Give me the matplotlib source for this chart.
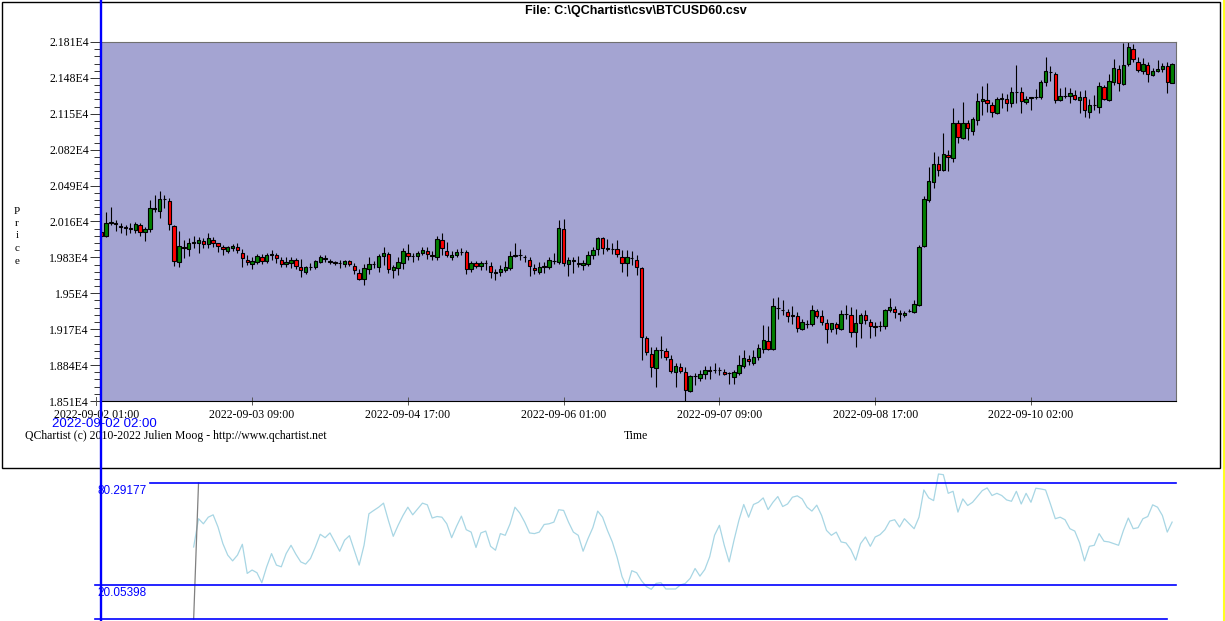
"""QChartist-style BTCUSD 1h candlestick chart with oscillator panel -> out.png"""
import numpy as np
import matplotlib
matplotlib.use("Agg")
import matplotlib.pyplot as plt
from matplotlib.lines import Line2D
from matplotlib.patches import Rectangle
from matplotlib.ticker import FixedLocator, NullFormatter
from matplotlib.transforms import blended_transform_factory

plt.rcParams["font.family"] = "Liberation Serif"

# ------------------------------------------------------------------
# Data (hourly candles, index 0 = 2022-09-02 01:00)
# ------------------------------------------------------------------
opens = [
    20050, 20060, 20030, 20150, 20150, 20120, 20105, 20100, 20080, 20130,
    20060, 20090, 20275, 20260, 20365, 20350, 20120, 19790, 19925, 19905,
    19970, 19965, 19980, 19950, 19990, 19960, 19925, 19890, 19915, 19930,
    19870, 19805, 19770, 19790, 19830, 19795, 19855, 19850, 19805, 19765,
    19780, 19805, 19740, 19700, 19745, 19745, 19790, 19818, 19790, 19785,
    19778, 19765, 19795, 19755, 19685, 19630, 19725, 19766, 19745, 19840,
    19860, 19710, 19735, 19780, 19875, 19842, 19840, 19875, 19885, 19850,
    19830, 19990, 19890, 19835, 19850, 19880, 19880, 19720, 19775, 19750,
    19775, 19755, 19690, 19695, 19715, 19735, 19845, 19850, 19835, 19810,
    19730, 19700, 19745, 19745, 19800, 19790, 20090, 19765, 19800, 19775,
    19757, 19772, 19855, 19905, 20005, 19910, 19910, 19905, 19835, 19775,
    19825, 19805, 19730, 19085, 18940, 18815, 18976, 18970, 18895, 18780,
    18820, 18775, 18605, 18737, 18720, 18755, 18790, 18795, 18795, 18775,
    18765, 18735, 18770, 18835, 18895, 18860, 18910, 18990, 19060, 18985,
    19365, 19347, 19325, 19295, 19290, 19175, 19218, 19215, 19335, 19290,
    19225, 19170, 19215, 19175, 19307, 19300, 19140, 19225, 19300, 19235,
    19195, 19196, 19195, 19345, 19360, 19315, 19300, 19337, 19330, 19395,
    19935, 20360, 20525, 20685, 20630, 20770, 20740, 21065, 20930, 21065,
    20995, 21095, 21265, 21280, 21235, 21155, 21288, 21285, 21245, 21350,
    21350, 21255, 21297, 21300, 21300, 21445, 21530, 21515, 21280, 21314,
    21316, 21325, 21280, 21300, 21170, 21230, 21215, 21395, 21275, 21445,
    21565, 21420, 21605, 21750, 21630, 21545, 21595, 21505, 21540, 21560,
    21590, 21435,
]
highs = [
    20080, 20090, 20245, 20290, 20175, 20145, 20130, 20145, 20155, 20150,
    20110, 20360, 20405, 20440, 20405, 20380, 20130, 20075, 19990, 20005,
    20025, 20020, 20005, 20050, 20020, 19965, 19945, 19935, 19955, 19960,
    19905, 19850, 19830, 19860, 19860, 19875, 19900, 19875, 19835, 19830,
    19830, 19820, 19815, 19755, 19775, 19810, 19850, 19850, 19815, 19800,
    19810, 19805, 19805, 19780, 19725, 19770, 19830, 19795, 19860, 19930,
    19880, 19760, 19830, 19915, 19955, 19875, 19885, 19925, 19925, 19890,
    20025, 20055, 19970, 19885, 19905, 19915, 19900, 19795, 19795, 19795,
    19805, 19785, 19725, 19760, 19795, 19885, 19965, 19905, 19850, 19835,
    19770, 19790, 19785, 19830, 19870, 20175, 20185, 19835, 19835, 19845,
    19805, 19885, 19930, 20020, 20020, 20000, 19965, 19990, 19900, 19900,
    19890, 19850, 19745, 19105, 19010, 19010, 19105, 19000, 18935, 18855,
    18855, 18825, 18750, 18765, 18795, 18835, 18830, 18855, 18825, 18800,
    18780, 18795, 18935, 18980, 18935, 18980, 19030, 19210, 19200, 19455,
    19465, 19440, 19360, 19385, 19330, 19260, 19255, 19390, 19360, 19345,
    19260, 19230, 19240, 19345, 19390, 19370, 19355, 19320, 19345, 19260,
    19235, 19245, 19360, 19455, 19385, 19345, 19335, 19355, 19440, 19940,
    20390, 20665, 20800, 20760, 20975, 20815, 21200, 21095, 21260, 21095,
    21125, 21340, 21405, 21430, 21260, 21305, 21340, 21330, 21395, 21600,
    21395, 21315, 21305, 21375, 21460, 21675, 21590, 21530, 21385, 21395,
    21385, 21370, 21355, 21370, 21285, 21325, 21445, 21415, 21520, 21650,
    21600, 21800, 21815, 21790, 21675, 21660, 21630, 21570, 21640, 21615,
    21630, 21620,
]
lows = [
    20040, 20010, 20020, 20130, 20075, 20055, 20035, 20050, 20055, 20030,
    19985, 20065, 20250, 20190, 20280, 20080, 19755, 19745, 19820, 19845,
    19915, 19875, 19915, 19915, 19930, 19880, 19850, 19875, 19890, 19870,
    19745, 19760, 19720, 19770, 19770, 19775, 19805, 19775, 19740, 19745,
    19730, 19725, 19650, 19675, 19715, 19725, 19775, 19790, 19765, 19760,
    19735, 19745, 19750, 19675, 19620, 19580, 19675, 19735, 19700, 19760,
    19685, 19645, 19670, 19720, 19810, 19790, 19810, 19850, 19815, 19810,
    19810, 19850, 19830, 19810, 19830, 19850, 19675, 19700, 19730, 19715,
    19715, 19645, 19620, 19655, 19700, 19715, 19830, 19805, 19790, 19660,
    19675, 19675, 19690, 19725, 19770, 19770, 19750, 19660, 19690, 19745,
    19715, 19755, 19815, 19850, 19860, 19890, 19860, 19835, 19700, 19655,
    19760, 19670, 18885, 18935, 18735, 18640, 18905, 18885, 18765, 18640,
    18765, 18505, 18595, 18655, 18695, 18710, 18710, 18765, 18750, 18745,
    18670, 18665, 18750, 18810, 18840, 18840, 18885, 18955, 18980, 18980,
    19265, 19305, 19240, 19215, 19140, 19165, 19185, 19200, 19270, 19210,
    19045, 19140, 19130, 19165, 19260, 19095, 19005, 19085, 19220, 19085,
    19105, 19155, 19175, 19325, 19275, 19245, 19280, 19328, 19320, 19385,
    19930, 20340, 20465, 20580, 20620, 20625, 20705, 20880, 20915, 20910,
    20955, 21045, 21140, 21170, 21120, 21150, 21200, 21180, 21215, 21245,
    21160, 21240, 21185, 21285, 21290, 21405, 21455, 21245, 21270, 21295,
    21250, 21275, 21160, 21125, 21110, 21185, 21160, 21275, 21270, 21415,
    21355, 21415, 21590, 21630, 21535, 21520, 21445, 21495, 21530, 21535,
    21345, 21430,
]
closes = [
    20060, 20030, 20150, 20160, 20135, 20105, 20100, 20095, 20135, 20065,
    20090, 20280, 20280, 20365, 20370, 20135, 19800, 19935, 19920, 19960,
    19965, 19990, 19950, 20005, 19960, 19935, 19905, 19925, 19935, 19900,
    19820, 19785, 19795, 19840, 19800, 19850, 19858, 19820, 19770, 19785,
    19810, 19755, 19710, 19740, 19742, 19795, 19830, 19820, 19792, 19782,
    19780, 19795, 19770, 19710, 19635, 19730, 19770, 19768, 19840, 19870,
    19720, 19740, 19785, 19885, 19840, 19840, 19870, 19900, 19860, 19847,
    19995, 19915, 19850, 19855, 19880, 19884, 19720, 19775, 19755, 19775,
    19777, 19695, 19692, 19720, 19740, 19845, 19847, 19850, 19830, 19750,
    19710, 19740, 19747, 19805, 19797, 20100, 19775, 19810, 19802, 19772,
    19778, 19850, 19895, 20005, 19920, 19912, 19907, 19860, 19780, 19830,
    19822, 19745, 19100, 18960, 18825, 18975, 18978, 18910, 18790, 18830,
    18790, 18615, 18740, 18738, 18760, 18795, 18788, 18798, 18792, 18755,
    18763, 18775, 18840, 18905, 18875, 18910, 18995, 19070, 18990, 19380,
    19367, 19345, 19290, 19293, 19185, 19235, 19220, 19345, 19290, 19235,
    19175, 19225, 19185, 19310, 19309, 19145, 19225, 19305, 19250, 19195,
    19193, 19198, 19345, 19370, 19330, 19313, 19320, 19339, 19400, 19930,
    20365, 20530, 20685, 20635, 20780, 20750, 21070, 20940, 21070, 21015,
    21100, 21265, 21290, 21250, 21170, 21285, 21291, 21250, 21350, 21352,
    21265, 21285, 21299, 21303, 21445, 21540, 21532, 21280, 21315, 21316,
    21340, 21290, 21305, 21185, 21235, 21232, 21410, 21290, 21450, 21575,
    21430, 21595, 21760, 21650, 21550, 21605, 21515, 21545, 21560, 21585,
    21445, 21605,
]

price_ticks = [18510, 18840, 19170, 19500, 19830, 20160,
               20490, 20820, 21150, 21480, 21810]
price_tick_labels = ["1.851E4", "1.884E4", "1.917E4", "1.95E4", "1.983E4",
                     "2.016E4", "2.049E4", "2.082E4", "2.115E4", "2.148E4",
                     "2.181E4"]
time_tick_idx = [0, 32, 64, 96, 128, 160, 192]
time_tick_labels = ["2022-09-02 01:00", "2022-09-03 09:00", "2022-09-04 17:00",
                    "2022-09-06 01:00", "2022-09-07 09:00", "2022-09-08 17:00",
                    "2022-09-10 02:00"]

# oscillator (starts at candle 20)
osc_start = 20
osc_values = [
    42.5, 59.2, 56.2, 60.1, 61.5, 54.3, 44.5, 37.7, 34.3, 37.7,
    44.1, 26.9, 28.9, 27.3, 21.4, 30.8, 38.6, 31.8, 30.8, 38.6,
    43.5, 38.2, 33.7, 32.4, 35.7, 42.5, 50.0, 48.0, 50.8, 45.5,
    40.0, 46.5, 49.2, 40.6, 31.8, 43.5, 62.1, 64.1, 66.0, 68.4,
    58.2, 48.8, 55.3, 61.1, 66.0, 61.5, 65.0, 68.4, 67.4, 59.6,
    60.5, 60.1, 56.2, 48.0, 54.7, 60.7, 52.7, 51.3, 42.2, 50.8,
    51.9, 42.9, 40.6, 50.4, 49.4, 56.2, 66.0, 62.5, 57.2, 50.8,
    50.4, 51.3, 55.8, 56.2, 57.2, 64.5, 64.1, 57.2, 51.3, 49.4,
    40.0, 47.4, 53.9, 63.7, 60.1, 52.3, 45.5, 36.3, 25.0, 18.7,
    28.5, 27.3, 22.6, 19.1, 17.5, 21.0, 21.4, 17.7, 17.7, 17.7,
    20.1, 21.0, 24.0, 29.8, 25.3, 29.2, 36.7, 49.4, 55.3, 43.5,
    33.7, 46.5, 58.2, 67.6, 60.1, 67.6, 68.9, 71.5, 64.6, 68.9,
    72.3, 66.4, 67.9, 71.9, 72.7, 70.9, 66.0, 63.7, 67.2, 61.1,
    52.3, 49.4, 51.3, 45.5, 44.9, 41.0, 34.7, 44.5, 48.4, 42.9,
    48.4, 49.8, 52.7, 57.8, 58.6, 54.3, 59.2, 56.2, 53.3, 60.1,
    76.2, 71.5, 69.9, 85.6, 85.2, 74.2, 75.4, 63.1, 70.9, 67.0,
    68.9, 72.3, 75.8, 77.4, 72.9, 74.2, 72.9, 70.3, 69.5, 75.4,
    67.9, 74.2, 68.9, 77.2, 76.8, 76.2, 67.9, 59.2, 60.1, 58.6,
    53.3, 51.9, 44.9, 34.3, 42.9, 43.5, 50.4, 45.9, 45.5, 44.5,
    43.5, 52.3, 59.6, 53.3, 53.9, 59.2, 60.5, 67.4, 66.0, 61.1,
    51.3, 57.2,
]
osc_lead_idx = [20, 21]
osc_lead_values = [0.0, 80.29177]
osc_upper = 80.29177
osc_lower = 20.05398
osc_base = 0.0

cursor_idx = 1
cursor_label = "2022-09-02 02:00"
title = "File: C:\\QChartist\\csv\\BTCUSD60.csv"
credits = "QChartist (c) 2010-2022 Julien Moog - http://www.qchartist.net"

# ------------------------------------------------------------------
# Layout (pixels)
# ------------------------------------------------------------------
W, H = 1225, 621
STEP = 4.868      # px per candle
X_IDX0 = 96.3     # px of candle 0


def fx(x):
    return x / W


def fy(y):
    return 1 - y / H


fig = plt.figure(figsize=(W / 100, H / 100), dpi=100)
fig.patch.set_facecolor("white")

# ---- price panel ----
ax = fig.add_axes([fx(100), fy(401), 1076 / W, 359 / H])
ax.set_facecolor("#a4a4d2")
x_left = (100 - X_IDX0) / STEP
ax.set_xlim(x_left, x_left + 1076 / STEP)
ax.set_ylim(price_ticks[0], price_ticks[-1])

o = np.array(opens, float)
h = np.array(highs, float)
l = np.array(lows, float)
c = np.array(closes, float)
idx = np.arange(len(o))
up = c >= o

ax.vlines(idx, l, h, color="black", lw=0.8, zorder=2)
body_bot = np.minimum(o, c)
body_h = np.maximum(np.abs(c - o), 4)
ax.bar(idx, body_h, bottom=body_bot, width=0.7,
       color=np.where(up, "#008000", "#ff0000"),
       edgecolor="black", linewidth=0.8, zorder=3)

for side in ("top", "right"):
    ax.spines[side].set_color("#707070")
for side in ("left", "bottom"):
    ax.spines[side].set_color("black")
for sp in ax.spines.values():
    sp.set_linewidth(0.8)

ax.yaxis.set_major_locator(FixedLocator(price_ticks))
ax.set_yticklabels(price_tick_labels)
ax.yaxis.set_minor_locator(FixedLocator(np.arange(price_ticks[0], price_ticks[-1], 66)))
ax.yaxis.set_minor_formatter(NullFormatter())
ax.tick_params(axis="y", which="major", length=7, width=0.7, direction="out",
               pad=1, labelsize=8.5, color="#333333")
ax.tick_params(axis="y", which="minor", length=4, width=0.7, direction="out",
               color="#333333")

ax.set_xticks(time_tick_idx[1:])
ax.set_xticklabels(time_tick_labels[1:])
ax.tick_params(axis="x", direction="inout", length=6, width=0.7,
               color="#555555", pad=3, labelsize=8.5)

# first tick sits left of the visible range -> draw by hand
trans = ax.get_xaxis_transform()
ax.add_line(Line2D([time_tick_idx[0]] * 2, [-4 / 359, 4 / 359], transform=trans,
                   color="#555555", lw=0.7, clip_on=False))
ax.annotate(time_tick_labels[0], (time_tick_idx[0], 0), xycoords=trans,
            xytext=(0, -6), textcoords="offset points",
            ha="center", va="top", fontsize=8.5, annotation_clip=False)

# texts around the price panel
fig.text(fx(636), fy(11), title, ha="center", va="center", fontsize=9,
         fontweight="bold", family="Liberation Sans")
fig.text(fx(17), fy(236), "P\nr\ni\nc\ne", ha="center", va="center",
         fontsize=8, linespacing=1.5)
fig.text(fx(636), fy(436), "Time", ha="center", va="center", fontsize=8.5)
fig.text(fx(25), fy(436), credits, ha="left", va="center", fontsize=8.5)

# frame around the top chart
fig.patches.append(Rectangle((fx(1.5), fy(467.5)), 1218.5 / W, 466 / H,
                             transform=fig.transFigure, fill=False,
                             ec="black", lw=1.0))
# yellow border on the right edge
fig.add_artist(Line2D([fx(1223.5)] * 2, [0, 1], color="#ffff20", lw=1.5))

# ---- oscillator panel ----
ax2 = fig.add_axes([0, 0, 1, 151 / H])
ax2.set_xlim(-X_IDX0 / STEP, (W - X_IDX0) / STEP)
ax2.set_ylim(-1.21, 87.97)
ax2.axis("off")

ax2.plot(osc_start + np.arange(len(osc_values)), osc_values,
         color="#a8d6e4", lw=0.9)
ax2.plot(osc_lead_idx, osc_lead_values, color="#808080", lw=0.9)
ax2.axhline(osc_upper, xmin=fx(150), xmax=fx(1176), color="#0000ff", lw=1.2)
ax2.axhline(osc_lower, xmin=fx(95), xmax=fx(1176), color="#0000ff", lw=1.2)
ax2.axhline(osc_base, xmin=fx(95), xmax=fx(1167), color="#0000ff", lw=1.2)

lab_trans = blended_transform_factory(fig.transFigure, ax2.transData)
ax2.text(fx(97), osc_upper - 1.0, "%.5f" % osc_upper, transform=lab_trans,
         ha="left", va="top", color="#0000ff", fontsize=8.5,
         family="Liberation Sans")
ax2.text(fx(97), osc_lower - 1.0, "%.5f" % osc_lower, transform=lab_trans,
         ha="left", va="top", color="#0000ff", fontsize=8.5,
         family="Liberation Sans")

# ---- cursor ----
cur_trans = blended_transform_factory(ax2.transData, fig.transFigure)
fig.add_artist(Line2D([cursor_idx, cursor_idx], [0, 1], transform=cur_trans,
                      color="#0000ff", lw=1.7, zorder=10))
fig.text(fx(104), fy(424), cursor_label, ha="center", va="center",
         fontsize=9.5, color="#0000ff", family="Liberation Sans", zorder=11)

fig.savefig("out.png", dpi=100)
